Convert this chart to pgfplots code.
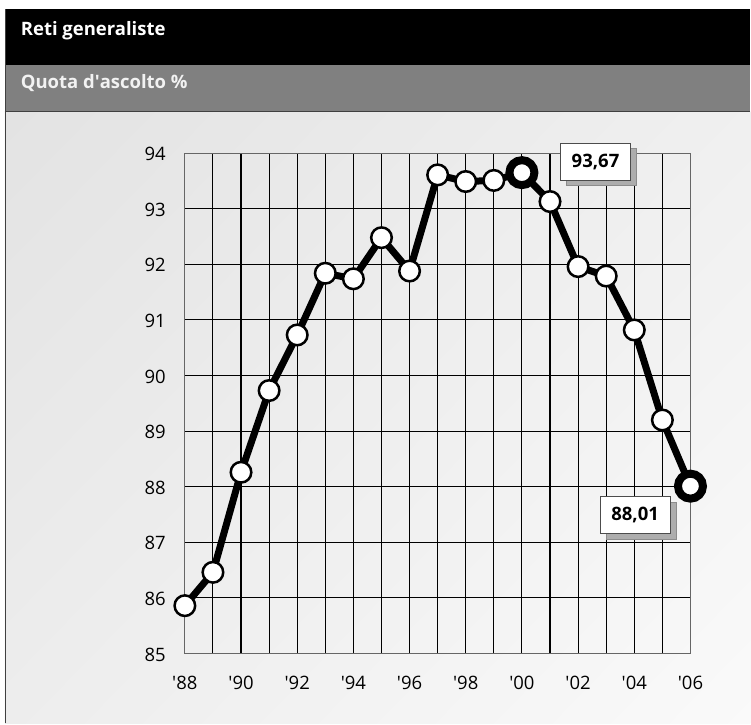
\documentclass[border=0pt]{standalone}
\usepackage{fontspec}
\setmainfont{Open Sans}
\usepackage{pgfplots}
\usetikzlibrary{shadings}
\pgfplotsset{compat=1.18}
\newcommand{\q}{\textquotesingle}
\begin{document}
\begin{tikzpicture}[x=1pt,y=1pt]
% background and frame (image coords: y up, 751 x 724)
\fill[white] (0,0) rectangle (751,724);
\shade[upper left=black!11, upper right=black!6, lower left=black!7, lower right=black!2] (5,0) rectangle (751,612);
\fill[black] (5,659) rectangle (751,715);
\fill[black!50] (5,612) rectangle (751,659);
\draw[black!75, line width=1.2pt] (5.6,0) -- (5.6,715);
\draw[black!75, line width=1.2pt] (5,612) -- (751,612);
\node[anchor=base west, text=white, font=\bfseries\fontsize{18.5}{21}\selectfont, inner sep=0pt] at (20.7,688) {Reti generaliste};
\node[anchor=base west, text=white!95!black, font=\bfseries\fontsize{18.5}{21}\selectfont, inner sep=0pt] at (20.7,635) {Quota d\q ascolto \%};
\begin{axis}[
  at={(185pt,70pt)}, anchor=origin,
  width=506pt, height=500.7pt, scale only axis,
  xmin=1988, xmax=2006, ymin=85, ymax=94,
  xtick={1988,1990,...,2006},
  xticklabels={\q88,\q90,\q92,\q94,\q96,\q98,\q00,\q02,\q04,\q06},
  minor xtick={1989,1991,...,2005},
  ytick={85,86,...,94},
  yticklabels={85,86,87,88,89,90,91,92,93,94},
  grid=both,
  major grid style={black, line width=1.1pt},
  minor grid style={black, line width=1.1pt},
  major tick length=0pt, minor tick length=0pt,
  axis line style={black!60, line width=1.2pt},
  tick label style={font=\fontsize{18.5}{21}\selectfont, inner sep=0pt},
  yticklabel style={anchor=east, xshift=-19pt, yshift=-1pt},
  xticklabel style={anchor=base, yshift=-36pt},
  clip=false,
]
\addplot[black, line width=7pt, mark=*, mark size=10.3pt,
  mark options={fill=white, draw=black, line width=2.5pt}] coordinates {
(1988,85.86) (1989,86.46) (1990,88.26) (1991,89.73) (1992,90.73)
(1993,91.84) (1994,91.74) (1995,92.48) (1996,91.88) (1997,93.61)
(1998,93.49) (1999,93.51) (2000,93.65) (2001,93.13) (2002,91.96)
(2003,91.79) (2004,90.82) (2005,89.20) (2006,88.01)};
\addplot[only marks, mark=*, mark size=12.5pt,
  mark options={fill=white, draw=black, line width=8pt}] coordinates {
(2000,93.65) (2006,88.01)};
% value labels with shadow
\node[fill=black!32, draw=black!45, line width=0.8pt, minimum width=70pt, minimum height=37pt, inner sep=0pt]
  at ([xshift=6pt,yshift=-5.5pt]axis cs:2002.62,93.85) {};
\node[fill=white, draw=black!70, line width=1pt, minimum width=70pt, minimum height=37pt, inner sep=0pt,
  font=\bfseries\fontsize{18.5}{21}\selectfont]
  at (axis cs:2002.62,93.85) {93,67};
\node[fill=black!32, draw=black!45, line width=0.8pt, minimum width=70pt, minimum height=37pt, inner sep=0pt]
  at ([xshift=6pt,yshift=-5.5pt]axis cs:2004.03,87.49) {};
\node[fill=white, draw=black!70, line width=1pt, minimum width=70pt, minimum height=37pt, inner sep=0pt,
  font=\bfseries\fontsize{18.5}{21}\selectfont]
  at (axis cs:2004.03,87.49) {88,01};
\end{axis}
\end{tikzpicture}
\end{document}
